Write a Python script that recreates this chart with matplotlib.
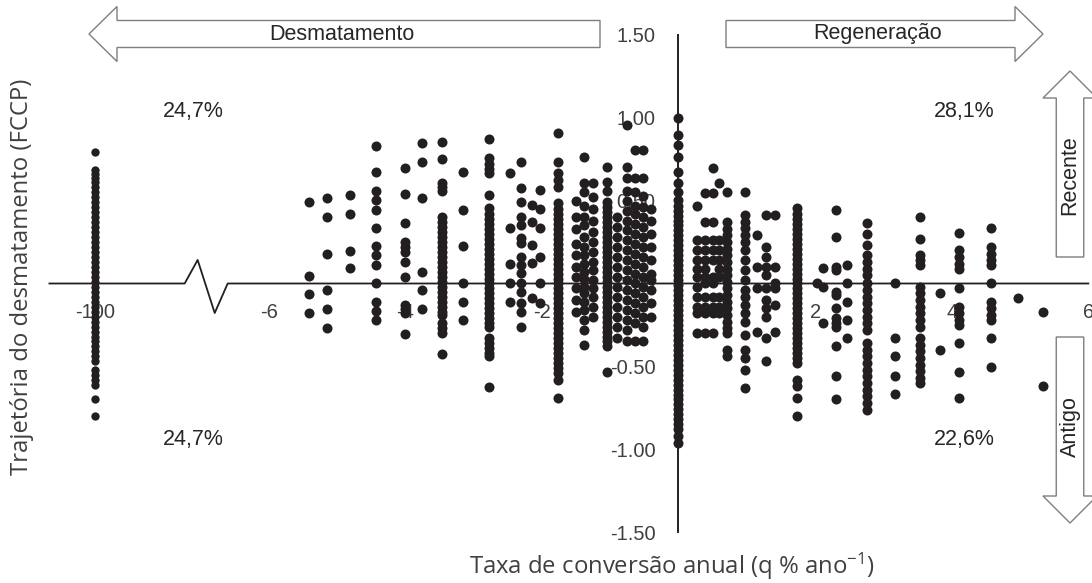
import numpy as np
import matplotlib
matplotlib.use('Agg')
import matplotlib.pyplot as plt
from matplotlib.patches import FancyArrow

plt.rcParams['font.family'] = ['Liberation Sans', 'DejaVu Sans']
plt.rcParams['mathtext.default'] = 'regular'

# values: annual conversion rate (x) and FCCP trajectory (y)
traj_m100 = [0.795, 0.685, 0.66, 0.635, 0.61, 0.585, 0.55, 0.52, 0.49, 0.46, 0.43, 0.40,
             0.37, 0.34, 0.31, 0.28, 0.25, 0.22, 0.19, 0.16, 0.13, 0.10, 0.07, 0.04, 0.01,
             -0.02, -0.05, -0.08, -0.11, -0.14, -0.17, -0.20, -0.23, -0.26, -0.29, -0.32,
             -0.35, -0.38, -0.41, -0.44, -0.47, -0.52, -0.55, -0.58, -0.61, -0.70, -0.80]

neg_rates = [-5.41, -5.14, -4.81, -4.43, -4.01, -3.75, -3.46, -3.15, -2.78, -2.47, -2.31,
             -2.15, -2.03, -1.76, -1.50, -1.38, -1.25, -1.05, -0.90, -0.76, -0.64, -0.52,
             -0.40, 0.0]
neg_traj = [
    [0.49, 0.045, -0.063, -0.176],
    [0.514, 0.401, 0.176, -0.041, -0.154, -0.267],
    [0.536, 0.421, 0.198, 0.092],
    [0.832, 0.671, 0.558, 0.504, 0.444, 0.333, 0.228, 0.172, 0.112, 0.0, -0.110, -0.164, -0.220],
    [0.699, 0.538, 0.365, 0.249, 0.22, 0.192, 0.132, 0.041, -0.13, -0.155, -0.18, -0.305],
    [0.846, 0.731, 0.514, 0.071, -0.041, -0.154],
    [0.856, 0.753, 0.608, 0.585, 0.56, 0.40, 0.37, 0.34, 0.31, 0.28, 0.25, 0.22, 0.19, 0.16,
     0.13, 0.10, 0.07, 0.04, 0.01, -0.02, -0.05, -0.08, -0.11, -0.14, -0.17, -0.19, -0.24,
     -0.27, -0.30, -0.427],
    [0.671, 0.444, 0.226, 0.0, -0.110, -0.220],
    [0.87, 0.756, 0.72, 0.69, 0.665, 0.534, 0.454, 0.42, 0.39, 0.36, 0.33, 0.30, 0.27, 0.24,
     0.21, 0.18, 0.15, 0.12, 0.09, 0.06, 0.03, 0.0, -0.03, -0.06, -0.09, -0.12, -0.15, -0.18,
     -0.21, -0.24, -0.26, -0.33, -0.36, -0.39, -0.42, -0.44, -0.623],
    [0.669, 0.333, 0.118, 0.005, -0.110],
    [0.735, 0.575, 0.494, 0.403, 0.353, 0.273, 0.243, 0.162, 0.112, 0.062, 0.0, -0.049,
     -0.119, -0.170, -0.261],
    [0.474, 0.373, 0.232, 0.122, -0.089],
    [0.564, 0.448, 0.333, 0.162, 0.0, -0.119],
    [0.906, 0.735, 0.665, 0.625, 0.584, 0.484, 0.45, 0.42, 0.39, 0.36, 0.33, 0.30, 0.27,
     0.24, 0.21, 0.18, 0.15, 0.12, 0.09, 0.06, 0.03, 0.0, -0.03, -0.06, -0.09, -0.12, -0.15,
     -0.18, -0.21, -0.24, -0.27, -0.30, -0.33, -0.36, -0.39, -0.42, -0.45, -0.48, -0.51,
     -0.54, -0.58, -0.693],
    [0.50, 0.40, 0.33, 0.24, 0.17, 0.10, 0.04, -0.03, -0.10, -0.17],
    [0.765, 0.607, 0.55, 0.47, 0.40, 0.35, 0.28, 0.22, 0.17, 0.12, 0.07, 0.03, -0.02, -0.06,
     -0.11, -0.16, -0.22, -0.28, -0.37],
    [0.607, 0.52, 0.45, 0.38, 0.31, 0.25, 0.19, 0.13, 0.08, 0.02, -0.03, -0.08, -0.14, -0.20],
    [0.705, 0.614, 0.56, 0.494, 0.46, 0.43, 0.40, 0.37, 0.34, 0.31, 0.28, 0.25, 0.22, 0.19,
     0.16, 0.13, 0.10, 0.07, 0.04, 0.01, -0.02, -0.05, -0.08, -0.11, -0.14, -0.17, -0.20,
     -0.23, -0.26, -0.29, -0.32, -0.35, -0.38, -0.532],
    [0.40, 0.34, 0.28, 0.22, 0.16, 0.10, 0.04, -0.02, -0.08, -0.14, -0.20, -0.26, -0.33],
    [0.956, 0.705, 0.635, 0.56, 0.50, 0.44, 0.38, 0.32, 0.26, 0.20, 0.14, 0.08, 0.02, -0.04,
     -0.10, -0.16, -0.22, -0.28, -0.35],
    [0.806, 0.635, 0.55, 0.47, 0.42, 0.36, 0.30, 0.24, 0.18, 0.12, 0.06, 0.0, -0.06, -0.12,
     -0.18, -0.24, -0.35],
    [0.806, 0.635, 0.53, 0.46, 0.40, 0.34, 0.28, 0.22, 0.16, 0.10, 0.04, -0.02, -0.08, -0.14,
     -0.20, -0.26, -0.35],
    [0.45, 0.38, 0.30, 0.22, 0.14, 0.06, 0.02, -0.04, -0.12, -0.20],
    [1.0, 0.896, 0.836, 0.765, 0.675, 0.605, 0.554, 0.504, 0.47, 0.44, 0.41, 0.38, 0.35, 0.32,
     0.29, 0.26, 0.23, 0.20, 0.17, 0.14, 0.11, 0.08, 0.05, 0.02, -0.01, -0.04, -0.07, -0.10,
     -0.13, -0.16, -0.19, -0.22, -0.25, -0.28, -0.31, -0.34, -0.37, -0.40, -0.43, -0.46,
     -0.49, -0.52, -0.55, -0.58, -0.61, -0.64, -0.67, -0.70, -0.73, -0.76, -0.79, -0.82,
     -0.85, -0.88, -0.92, -0.965],
]

pos_rates = [0.27, 0.39, 0.51, 0.60, 0.71, 0.97, 1.15, 1.28, 1.42, 1.73, 2.03, 2.12, 2.31,
             2.46, 2.76, 3.17, 3.53, 3.83, 4.10, 4.58, 4.97, 5.34]
pos_traj = [
    [0.468, 0.262, 0.202, 0.142, 0.09, 0.041, -0.02, -0.08, -0.14, -0.18, -0.30],
    [0.544, 0.373, 0.262, 0.202, 0.142, 0.09, 0.041, 0.0, -0.08, -0.14, -0.18, -0.30],
    [0.695, 0.544, 0.373, 0.262, 0.202, 0.142, 0.041, 0.0, -0.08, -0.14, -0.18, -0.30],
    [0.605, 0.262, 0.202, 0.142, 0.09, 0.041, -0.08, -0.14, -0.18],
    [0.554, 0.373, 0.33, 0.29, 0.25, 0.21, 0.17, 0.13, 0.09, 0.05, 0.01, -0.03, -0.07, -0.11,
     -0.15, -0.19, -0.23, -0.27, -0.30, -0.40, -0.44],
    [0.554, 0.413, 0.373, 0.333, 0.29, 0.25, 0.20, 0.14, 0.08, 0.02, -0.04, -0.08, -0.13,
     -0.18, -0.23, -0.31, -0.40, -0.45, -0.52, -0.63],
    [0.293, 0.10, -0.03, -0.29],
    [0.413, 0.222, 0.16, 0.10, 0.05, -0.03, -0.10, -0.15, -0.20, -0.33, -0.47],
    [0.413, 0.10, 0.0, -0.03, -0.13, -0.29],
    [0.454, 0.42, 0.39, 0.36, 0.33, 0.30, 0.27, 0.24, 0.21, 0.18, 0.15, 0.12, 0.09, 0.06,
     0.03, 0.0, -0.03, -0.06, -0.09, -0.12, -0.15, -0.18, -0.21, -0.24, -0.27, -0.30, -0.33,
     -0.36, -0.39, -0.42, -0.45, -0.482, -0.58, -0.62, -0.69, -0.80],
    [0.0],
    [0.092, -0.02, -0.24],
    [0.444, 0.282, 0.10, 0.08, -0.05, -0.07, -0.15, -0.21, -0.24, -0.26, -0.38, -0.56, -0.70],
    [0.112, 0.0, -0.11, -0.22, -0.33],
    [0.363, 0.30, 0.23, 0.17, 0.13, 0.09, 0.05, 0.0, -0.04, -0.08, -0.12, -0.16, -0.20, -0.24,
     -0.28, -0.36, -0.40, -0.44, -0.48, -0.52, -0.56, -0.60, -0.64, -0.68, -0.72, -0.763],
    [0.0, -0.33, -0.44, -0.556, -0.669],
    [0.403, 0.267, 0.17, 0.14, 0.11, -0.02, -0.06, -0.10, -0.14, -0.18, -0.22, -0.26, -0.33,
     -0.37, -0.41, -0.45, -0.49, -0.53, -0.57, -0.60],
    [-0.06, -0.40],
    [0.307, 0.2, 0.16, 0.12, 0.09, -0.03, -0.14, -0.18, -0.22, -0.25, -0.357, -0.532, -0.693],
    [0.333, 0.22, 0.18, 0.14, 0.11, 0.0, -0.11, -0.15, -0.19, -0.22, -0.33, -0.502],
    [-0.089],
    [-0.17, -0.62],
]

x_ticks = [-100, -6, -4, -2, 2, 4, 6]
x_ticklabels = ['-100', '-6', '-4', '-2', '2', '4', '6']
y_ticks = [-1.5, -1.0, -0.5, 0.0, 0.5, 1.0, 1.5]
y_ticklabels = ['-1.50', '-1.00', '-0.50', '0.00', '0.50', '1.00', '1.50']
quadrant_pct = ['24,7%', '28,1%', '24,7%', '22,6%']

# broken x axis: everything below BRK is squeezed so -100 sits left of -6
BRK = -6.4
SQ = 0.0229


def fwd(x):
    x = np.asarray(x, float)
    return np.where(x < BRK, BRK + (x - BRK) * SQ, x)


def inv(p):
    p = np.asarray(p, float)
    return np.where(p < BRK, BRK + (p - BRK) / SQ, p)


W, H = 1092, 583
fig = plt.figure(figsize=(W / 100, H / 100), dpi=100)
fig.patch.set_facecolor('white')
ax = fig.add_axes([40 / W, (H - 545) / H, (W - 40) / W, 525 / H])
ax.set_xscale('function', functions=(fwd, inv))
ax.set_xlim(float(inv(-9.348)), 6.054)
ax.set_ylim(-1.578, 1.590)
ax.patch.set_alpha(0)

dot = '#231f20'
ax.scatter(np.full(len(traj_m100), -100.0), traj_m100, s=36, color=dot,
           linewidths=0, zorder=3, clip_on=False)
for r, ys in zip(neg_rates + pos_rates, neg_traj + pos_traj):
    ax.scatter(np.full(len(ys), r), ys, s=52, color=dot, linewidths=0,
               zorder=3, clip_on=False)

# horizontal axis with the zig-zag break
brk_p = np.array([-9.21, -7.23, -7.04, -6.79, -6.60])
ax.plot(list(inv(brk_p)) + [6.0], [0, 0, 0.142, -0.178, 0, 0], color=dot,
        lw=1.3, zorder=2, clip_on=False)

for s in ['top', 'right']:
    ax.spines[s].set_visible(False)
ax.spines['left'].set_position(('data', 0))
ax.spines['left'].set_bounds(-1.5, 1.5)
ax.spines['left'].set_linewidth(1.4)
ax.spines['left'].set_color(dot)
ax.spines['bottom'].set_position(('data', 0))
ax.spines['bottom'].set_color('none')

ax.set_xticks(x_ticks)
ax.set_xticklabels(x_ticklabels)
ax.set_yticks(y_ticks)
ax.set_yticklabels(y_ticklabels)
ax.tick_params(axis='both', length=0, labelsize=14.5, labelcolor='#404040')
ax.tick_params(axis='x', pad=14)
ax.tick_params(axis='y', pad=16.5)


def px(x, y):
    return x / W, 1 - y / H


# block arrows (inches, origin bottom-left)
arrow_kw = dict(length_includes_head=True, fc='white', ec='#7f7f7f', lw=1.0)
fig.add_artist(FancyArrow(6.00, 5.49, -5.11, 0, width=0.27, head_width=0.55,
                          head_length=0.28, transform=fig.dpi_scale_trans, **arrow_kw))
fig.add_artist(FancyArrow(7.26, 5.49, 3.17, 0, width=0.27, head_width=0.55,
                          head_length=0.28, transform=fig.dpi_scale_trans, **arrow_kw))
fig.add_artist(FancyArrow(10.70, 3.26, 0, 1.86, width=0.275, head_width=0.54,
                          head_length=0.27, transform=fig.dpi_scale_trans, **arrow_kw))
fig.add_artist(FancyArrow(10.70, 2.46, 0, -1.86, width=0.275, head_width=0.54,
                          head_length=0.27, transform=fig.dpi_scale_trans, **arrow_kw))

txt = dict(fontsize=15.5, color='#262626', ha='center', va='center')
fig.text(*px(342, 34), 'Desmatamento', **txt)
fig.text(*px(878, 34), 'Regeneração', **txt)
fig.text(*px(1070, 175), 'Recente', rotation=90, **txt)
fig.text(*px(1070, 427), 'Antigo', rotation=90, **txt)

for (x, y), t in zip([(193, 112), (964, 112), (193, 439), (964, 439)], quadrant_pct):
    fig.text(*px(x, y), t, **txt)

lab = dict(fontsize=17.2, color='#404040', ha='center', va='center',
           family=['Open Sans', 'DejaVu Sans'])
fig.text(*px(22, 277), 'Trajetória do desmatamento (FCCP)', rotation=90, **lab)
fig.text(*px(672, 566), 'Taxa de conversão anual (q % ano$^{-1}$)', **lab)

fig.savefig('out.png', dpi=100, facecolor='white')
